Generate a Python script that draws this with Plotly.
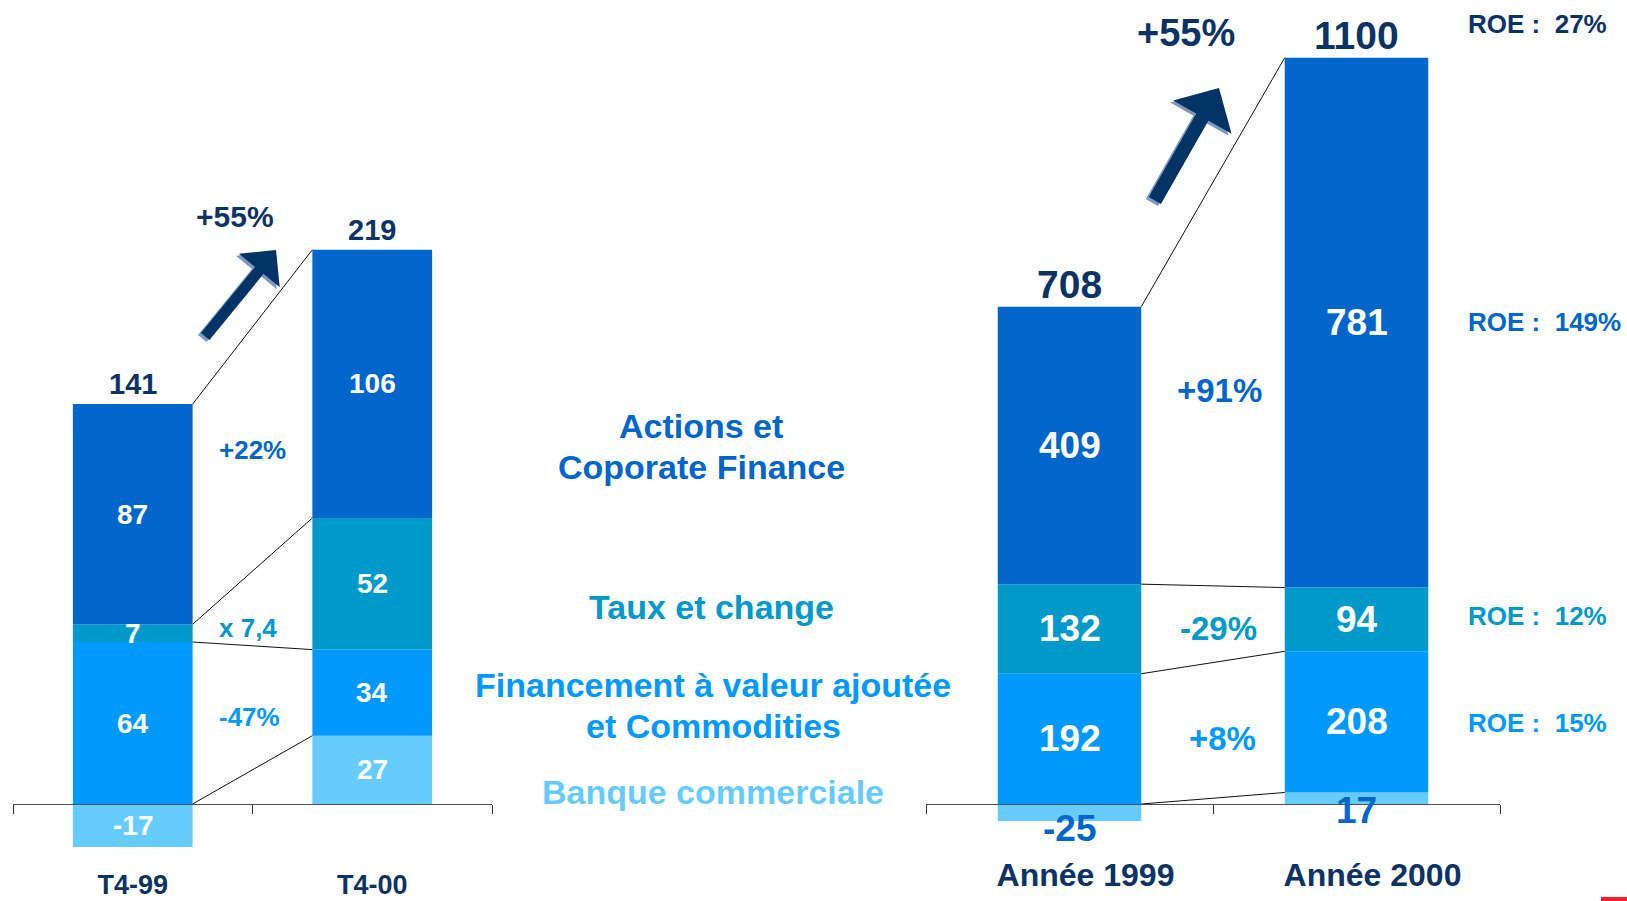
import plotly.graph_objects as go

W, H = 1627, 901

# ---------------- data ----------------
quarters = ["T4-99", "T4-00"]
years = ["Année 1999", "Année 2000"]
segment_names = ["Banque commerciale",
                 "Financement à valeur ajoutée et Commodities",
                 "Taux et change",
                 "Actions et Coporate Finance"]

banque_q = [-17, 27]
financement_q = [64, 34]
taux_q = [7, 52]
actions_q = [87, 106]
totals_q = [141, 219]

banque_y = [-25, 17]
financement_y = [192, 208]
taux_y = [132, 94]
actions_y = [409, 781]
totals_y = [708, 1100]

growth_total_q = "+55%"
growth_total_y = "+55%"
growth_q = ["+22%", "x 7,4", "-47%"]          # Actions, Taux, Financement
growth_y = ["+91%", "-29%", "+8%"]
roe_labels = ["ROE :\u00a0 27%", "ROE :\u00a0 149%", "ROE :\u00a0 12%", "ROE :\u00a0 15%"]

legend_lines = [["Actions et", "Coporate Finance"],
                ["Taux et change"],
                ["Financement à valeur ajoutée", "et Commodities"],
                ["Banque commerciale"]]

# ---------------- styles ----------------
FONT = "Arial, Liberation Sans, sans-serif"
NAVY = "#0B3366"
seg_colors = ["#66CCFF", "#0099FF", "#0099CC", "#0066CC"]
BAR_W = 0.5
BASE_PX = 804                      # pixel row of the zero line
SCALE_Q = 2.531                    # px per unit, left chart
SCALE_Y = 0.6785                   # px per unit, right chart


def px(x):
    return x / W


def py(y):
    return 1 - y / H


def paper_text(x, y, text, size, color, xanchor="center"):
    return dict(x=px(x), y=py(y), xref="paper", yref="paper", text=text,
                xanchor=xanchor, yanchor="middle", showarrow=False,
                font=dict(family=FONT, size=size, color=color, weight="bold"))


fig = go.Figure()

panels = [
    dict(xa="x", ya="y", cats=quarters,
         series=[banque_q, financement_q, taux_q, actions_q], totals=totals_q,
         lab_size=28, tot_size=29, tot_shift=20),
    dict(xa="x2", ya="y2", cats=years,
         series=[banque_y, financement_y, taux_y, actions_y], totals=totals_y,
         lab_size=37, tot_size=39, tot_shift=22),
]

annotations = []

for pi, p in enumerate(panels):
    xs = list(range(len(p["cats"])))
    for name, vals, col in zip(segment_names, p["series"], seg_colors):
        fig.add_trace(go.Bar(x=xs, y=vals, width=BAR_W, name=name,
                             marker=dict(color=col, line=dict(width=0)),
                             xaxis=p["xa"], yaxis=p["ya"], showlegend=False,
                             hoverinfo="skip"))
    bounds = []
    for ci in xs:
        pos = 0.0
        neg = 0.0
        b = []
        for si, vals in enumerate(p["series"]):
            v = vals[ci]
            if v >= 0:
                mid = pos + v / 2
                pos += v
            else:
                mid = neg + v / 2
                neg += v
            b.append(pos)
            color = "white"
            yshift = 0
            if pi == 1 and si == 0:
                color = "#0066CC"
                yshift = -16 if v < 0 else -12
            annotations.append(dict(
                x=ci, y=mid, xref=p["xa"], yref=p["ya"], text=str(v),
                xanchor="center", yanchor="middle",
                showarrow=False, yshift=yshift,
                font=dict(family=FONT, size=p["lab_size"], color=color, weight="bold")))
        bounds.append(b)
        annotations.append(dict(
            x=ci, y=pos, xref=p["xa"], yref=p["ya"], text=str(p["totals"][ci]),
            xanchor="center", yanchor="middle", showarrow=False, yshift=p["tot_shift"],
            font=dict(family=FONT, size=p["tot_size"], color=NAVY, weight="bold")))
    for k in range(4):
        fig.add_trace(go.Scatter(
            x=[xs[0] + BAR_W / 2, xs[1] - BAR_W / 2],
            y=[bounds[0][k], bounds[1][k]],
            mode="lines", line=dict(color="#111111", width=1),
            xaxis=p["xa"], yaxis=p["ya"], showlegend=False, hoverinfo="skip"))

yr_q = [-(H - BASE_PX) / SCALE_Q, BASE_PX / SCALE_Q]
yr_y = [-(H - BASE_PX) / SCALE_Y, BASE_PX / SCALE_Y]

axis_common = dict(
    range=[-0.5, 1.5], anchor="free", position=(H - BASE_PX) / H,
    showline=True, linecolor="#505050", linewidth=1, automargin=False,
    showgrid=False, zeroline=False, ticks="", tickvals=[0, 1],
    minor=dict(tickmode="array", tickvals=[-0.5, 0.5, 1.5], ticks="outside",
               ticklen=9, tickcolor="#303030", tickwidth=1, showgrid=False),
    fixedrange=True,
)

fig.update_layout(
    xaxis=dict(axis_common, domain=[px(13), px(492)], ticktext=quarters,
               tickfont=dict(family=FONT, size=27, color=NAVY, weight="bold"),
               ticklabelstandoff=57),
    xaxis2=dict(axis_common, domain=[px(926), px(1500)], ticktext=years,
                tickfont=dict(family=FONT, size=32, color=NAVY, weight="bold"),
                ticklabelstandoff=43, ticklabelshift=16),
    yaxis=dict(domain=[0, 1], range=yr_q, visible=False, anchor="x",
               fixedrange=True, automargin=False),
    yaxis2=dict(domain=[0, 1], range=yr_y, visible=False, anchor="x2",
                fixedrange=True, automargin=False),
    barmode="relative",
    width=W, height=H, autosize=False,
    margin=dict(l=0, r=0, t=0, b=0, pad=0),
    paper_bgcolor="white", plot_bgcolor="white",
    showlegend=False,
)

# growth labels between bars
g_q_pos = [(252, 450, "#0066CC"), (248, 628, "#0099CC"), (249, 717, "#0099FF")]
for txt, (x, y, c) in zip(growth_q, g_q_pos):
    annotations.append(paper_text(x, y, txt, 26, c))
g_y_pos = [(1219, 390, "#0066CC"), (1218, 628, "#0099CC"), (1222, 738, "#0099FF")]
for txt, (x, y, c) in zip(growth_y, g_y_pos):
    annotations.append(paper_text(x, y, txt, 33, c))

# total growth labels
annotations.append(paper_text(235, 216, growth_total_q, 30, NAVY))
annotations.append(paper_text(1186, 33, growth_total_y, 38, NAVY))

# ROE labels
roe_pos = [(24, NAVY), (322, "#0066CC"), (616, "#0099CC"), (723, "#0099FF")]
for txt, (y, c) in zip(roe_labels, roe_pos):
    annotations.append(paper_text(1466, y, txt, 26, c, xanchor="left"))

# middle legend text
leg_pos = [[(701, 426), (701, 467)], [(711, 607)], [(713, 685), (713, 726)], [(713, 792)]]
leg_cols = ["#0066CC", "#0099CC", "#0099FF", "#66CCFF"]
for lines, poss, c in zip(legend_lines, leg_pos, leg_cols):
    for t, (x, y) in zip(lines, poss):
        annotations.append(paper_text(x, y, t, 34, c))

# block arrows (shadow + main)
for (tip, tail, w, s) in [((276, 250), (204, 338), 11, 0.8),
                          ((1219, 88), (1154, 202), 14, 0.8)]:
    for dx, dy, col in [(-3, 2, "#7E99C0"), (0, 0, "#003366")]:
        annotations.append(dict(
            x=px(tip[0] + dx), y=py(tip[1] + dy), xref="paper", yref="paper",
            ax=tail[0] - tip[0], ay=tail[1] - tip[1], axref="pixel", ayref="pixel",
            text="", showarrow=True, arrowhead=1, arrowwidth=w, arrowsize=s,
            arrowcolor=col, standoff=0))

fig.update_layout(annotations=annotations)

fig.add_shape(type="rect", xref="paper", yref="paper",
              x0=px(1601), x1=1.0, y0=0, y1=py(897),
              fillcolor="#F71F27", line=dict(width=0))

fig.write_html("out.html", config={"displayModeBar": False},
               post_script="document.body.style.margin='0';document.body.style.overflow='hidden';")
